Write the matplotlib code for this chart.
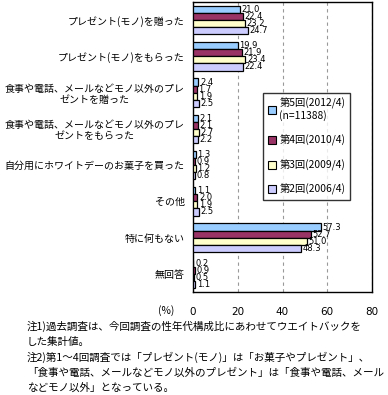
import matplotlib.pyplot as plt
from matplotlib.patches import Patch
import numpy as np

plt.rcParams['font.family'] = ['Noto Sans CJK JP', 'DejaVu Sans']

categories = [
    "プレゼント(モノ)を贈った",
    "プレゼント(モノ)をもらった",
    "食事や電話、メールなどモノ以外のプレ\nゼントを贈った",
    "食事や電話、メールなどモノ以外のプレ\nゼントをもらった",
    "自分用にホワイトデーのお菓子を買った",
    "その他",
    "特に何もない",
    "無回答",
]
series_labels = ["第5回(2012/4)\n(n=11388)", "第4回(2010/4)", "第3回(2009/4)", "第2回(2006/4)"]
r5 = [21.0, 19.9, 2.4, 2.1, 1.3, 1.1, 57.3, 0.2]
r4 = [22.4, 21.9, 1.7, 2.1, 0.9, 2.0, 52.7, 0.9]
r3 = [23.2, 23.4, 1.9, 2.7, 1.2, 1.9, 51.0, 0.5]
r2 = [24.7, 22.4, 2.5, 2.2, 0.8, 2.5, 48.3, 1.1]
colors = ["#99CCFF", "#993366", "#FFFFCC", "#CCCCFF"]
xticks = [0, 20, 40, 60, 80]

fig = plt.figure(figsize=(3.88, 3.95), dpi=100)
ax = fig.add_axes([193/388, 1 - 292/395, 179/388, 290/395])

n = len(categories)
y = np.arange(n)
h = 0.195
for i, vals in enumerate([r5, r4, r3, r2]):
    pos = y - 1.5*h + i*h
    ax.barh(pos, vals, height=h, color=colors[i], edgecolor="black", linewidth=0.9, zorder=3)
    for p, v in zip(pos, vals):
        ax.text(v + 0.7, p, f"{v:.1f}", va="center", ha="left", fontsize=6.0,
                family="DejaVu Sans", zorder=4)

ax.set_ylim(n - 0.5, -0.5)
ax.set_xlim(0, 80)
ax.set_yticks(y)
ax.set_yticklabels(categories, fontsize=7.2, multialignment="center")
ax.set_xticks(xticks)
ax.set_xticklabels([str(t) for t in xticks], fontsize=7.5, family="DejaVu Sans")
ax.tick_params(axis="both", length=0)
ax.tick_params(axis="x", pad=11)
ax.tick_params(axis="y", pad=6)
ax.xaxis.grid(True, linestyle=(0, (3, 3)), color="#999999", linewidth=0.8, zorder=0)
for s in ax.spines.values():
    s.set_color("black")
    s.set_linewidth(1)

handles = [Patch(facecolor=c, edgecolor="black", linewidth=0.8) for c in colors]
leg = ax.legend(handles, series_labels, loc="upper left", bbox_to_anchor=(0.365, 0.705),
                fontsize=7.4, frameon=True, fancybox=False, edgecolor="black",
                handlelength=0.8, handleheight=0.8, handletextpad=0.3,
                labelspacing=1.3, borderpad=0.45)
leg.get_frame().set_linewidth(1)

fig.text(158/388, 1 - 311/395, "(%)", fontsize=7.4, va="center")

notes = [
    "注1)過去調査は、今回調査の性年代構成比にあわせてウエイトバックを",
    "した集計値。",
    "注2)第1～4回調査では「プレゼント(モノ)」は「お菓子やプレゼント」、",
    "「食事や電話、メールなどモノ以外のプレゼント」は「食事や電話、メール",
    "などモノ以外」となっている。",
]
for k, line in enumerate(notes):
    fig.text(27/388, 1 - (326 + k*15.5)/395, line, fontsize=7.6, va="center")

fig.savefig("out.png", dpi=100)
